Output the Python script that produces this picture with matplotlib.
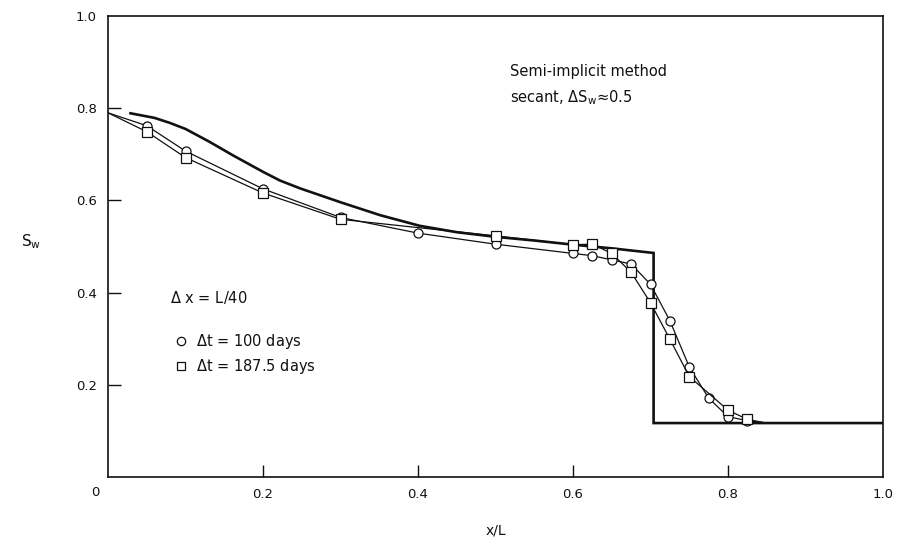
import matplotlib.pyplot as plt
from matplotlib.lines import Line2D

# analytical (Buckley-Leverett) profile, thick line
exact_x = [0.029, 0.06, 0.08, 0.10, 0.13, 0.162, 0.20, 0.222, 0.248, 0.30, 0.351,
           0.402, 0.45, 0.50, 0.55, 0.60, 0.65, 0.704, 0.704, 1.0]
exact_y = [0.789, 0.779, 0.768, 0.755, 0.728, 0.697, 0.662, 0.643, 0.626, 0.596,
           0.568, 0.545, 0.531, 0.521, 0.513, 0.504, 0.496, 0.486, 0.117, 0.117]

# dt = 100 days (circles)
c_x = [0.0, 0.05, 0.10, 0.20, 0.30, 0.40, 0.50, 0.60, 0.625, 0.65, 0.675,
       0.70, 0.725, 0.75, 0.775, 0.80, 0.825, 0.85]
c_y = [0.79, 0.762, 0.707, 0.625, 0.563, 0.529, 0.505, 0.485, 0.480, 0.471, 0.462,
       0.418, 0.339, 0.239, 0.171, 0.131, 0.122, 0.117]

# dt = 187.5 days (squares)
s_x = [0.0, 0.05, 0.10, 0.20, 0.30, 0.50, 0.60, 0.625, 0.65, 0.675, 0.70,
       0.725, 0.75, 0.80, 0.825, 0.85]
s_y = [0.79, 0.749, 0.693, 0.616, 0.559, 0.523, 0.504, 0.505, 0.485, 0.444, 0.378,
       0.299, 0.218, 0.145, 0.125, 0.117]

ticks = [0, 0.2, 0.4, 0.6, 0.8, 1.0]
x_labels = ['', '0.2', '0.4', '0.6', '0.8', '1.0']
y_labels = ['', '0.2', '0.4', '0.6', '0.8', '1.0']

plt.rcParams['font.family'] = ['DejaVu Sans']
ink = '#111111'

fig = plt.figure(figsize=(8.98, 5.5), dpi=100)
ax = fig.add_axes([108 / 898, 73 / 550, 775 / 898, 461 / 550])

ax.plot(exact_x, exact_y, '-', color=ink, lw=1.9, solid_joinstyle='miter')
ax.plot(c_x, c_y, '-', color=ink, lw=0.9, marker='o', ms=6.5, mfc='white',
        mec=ink, mew=0.9, markevery=list(range(1, len(c_x) - 1)))
ax.plot(s_x, s_y, '-', color=ink, lw=0.9, marker='s', ms=6.5, mfc='white',
        mec=ink, mew=0.9, markevery=list(range(1, len(s_x) - 1)))

ax.set_xlim(0, 1.0)
ax.set_ylim(0, 1.0)
ax.set_xticks(ticks)
ax.set_xticklabels(x_labels)
ax.set_yticks(ticks)
ax.set_yticklabels(y_labels)
ax.tick_params(direction='in', length=9, width=1.0, colors=ink, labelsize=9.5,
               pad=8)
# no tick marks where the ticks sit on the frame corners
for t in [ax.xaxis.get_major_ticks()[0], ax.xaxis.get_major_ticks()[-1],
          ax.yaxis.get_major_ticks()[0], ax.yaxis.get_major_ticks()[-1]]:
    t.tick1line.set_visible(False)
for sp in ax.spines.values():
    sp.set_linewidth(1.2)
    sp.set_color(ink)

# single origin label at the lower-left corner
ax.text(-0.016, -0.033, '0', transform=ax.transAxes, fontsize=9.5, color=ink,
        ha='center', va='center')

ax.set_xlabel('x/L', fontsize=10, color=ink, labelpad=16)
ax.set_ylabel('S$_{\\rm w}$', fontsize=11, color=ink, rotation=0)
ax.yaxis.set_label_coords(-0.099, 0.49)

ax.text(0.519, 0.879, 'Semi-implicit method', fontsize=10.5, color=ink,
        va='center')
ax.text(0.519, 0.822, 'secant, $\\Delta$S$_{\\rm w}$≈0.5', fontsize=10.5,
        color=ink, va='center')
ax.text(0.08, 0.39, '$\\Delta$ x = L/40', fontsize=10.5, color=ink, va='center')

handles = [Line2D([], [], ls='none', marker='o', ms=6, mfc='white', mec=ink, mew=0.9),
           Line2D([], [], ls='none', marker='s', ms=6, mfc='white', mec=ink, mew=0.9)]
ax.legend(handles, ['$\\Delta$t = 100 days', '$\\Delta$t = 187.5 days'],
          loc='upper left', bbox_to_anchor=(0.068, 0.343), frameon=False,
          fontsize=10.5, handlelength=1.0, handletextpad=0.5, labelspacing=0.4,
          labelcolor=ink)

fig.savefig('out.png', dpi=100)
